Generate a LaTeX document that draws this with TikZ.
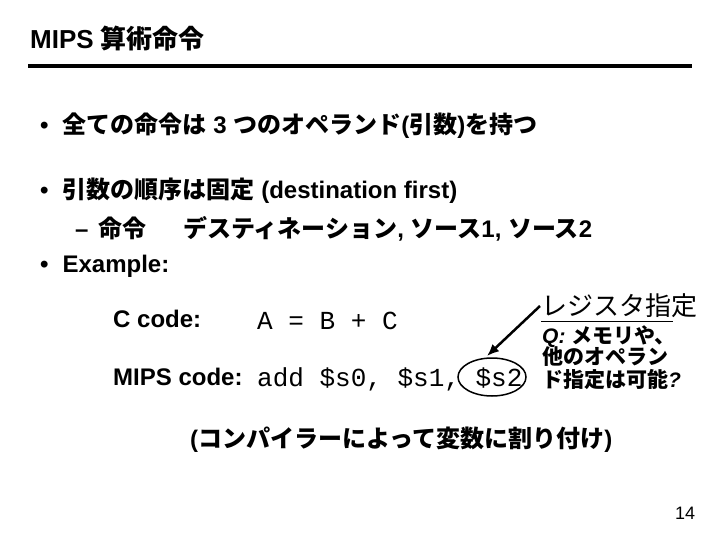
\documentclass[tikz,border=0pt]{standalone}
\usepackage{fontspec}
\usetikzlibrary{arrows.meta}
\setmainfont{Liberation Sans}
\setmonofont{Liberation Mono}
\newfontfamily\cjk{Noto Sans CJK JP}
\newcommand{\J}[1]{{\cjk #1}}
\begin{document}
\begin{tikzpicture}[x=1pt,y=-1pt,
  txt/.style={anchor=base west,inner sep=0pt,font=\fontsize{24}{26}\selectfont\bfseries},
  code/.style={anchor=base west,inner sep=0pt,font=\fontsize{26}{28}\selectfont\ttfamily},
  note/.style={anchor=base west,inner sep=0pt,font=\fontsize{21}{24}\selectfont\bfseries\itshape}]
\useasboundingbox (0,0) rectangle (720,540);
\node[anchor=base west,inner sep=0pt,font=\fontsize{26}{28}\selectfont\bfseries] (title) at (30,49) {MIPS \J{算術命令}};
\draw[line width=4pt] (28,66) -- (692,66);
\node[txt] (b1) at (40,134) {•\hspace{14pt}\J{全ての命令は} 3 \J{つのオペランド}(\J{引数})\J{を持つ}};
\node[txt] (b2) at (40,199) {•\hspace{14pt}\J{引数の順序は固定} (destination first)};
\node[txt] (b3) at (75,237) {–\hspace{10pt}\J{命令}};
\node[txt] (b3b) at (183,237) {\J{デスティネーション}, \J{ソース}1, \J{ソース}2};
\node[txt] (b4) at (40,272) {•\hspace{14pt}Example:};
\node[txt] (cc) at (113,327) {C code:};
\node[code] (ccv) at (257,329) {A = B + C};
\node[txt] (mc) at (113,385) {MIPS code:};
\node[code] (mcv) at (257,386) {add \$s0, \$s1, \$s2};
\draw[line width=1.5pt] (492,377) ellipse (34 and 19);
\node[anchor=base west,inner sep=0pt,font=\fontsize{26}{28}\selectfont\cjk] (reg) at (541,315) {レジスタ指定};
\draw[line width=1pt] (541,321) -- (673,321);
\coordinate (as) at (540,306);
\coordinate (ae) at (487,356);
\draw[line width=2.5pt,-{Latex[length=12pt,width=10pt]}] (as) -- (ae);
\node[note] (n1) at (542,343) {Q: \J{メモリや、}};
\node[note] (n2) at (542,364) {\J{他のオペラン}};
\node[note] (n3) at (542,387) {\J{ド指定は可能}?};
\node[txt] (comp) at (190,447) {(\J{コンパイラーによって変数に割り付け})};
\node[anchor=base west,inner sep=0pt,font=\fontsize{18}{20}\selectfont] (pg) at (675,519) {14};
\end{tikzpicture}
\end{document}
